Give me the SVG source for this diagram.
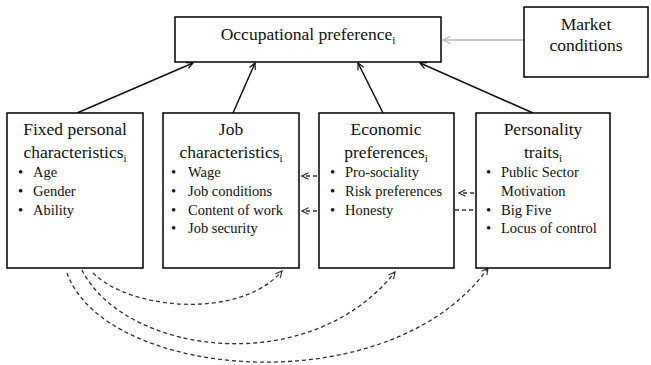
<svg xmlns="http://www.w3.org/2000/svg" width="651" height="365" viewBox="0 0 651 365" style="font-family:'Liberation Serif',serif">
<style>
svg text, svg tspan{font-family:"Liberation Serif","Times New Roman",serif !important;fill:#111}
.h{font-size:17.5px;text-anchor:middle}
.b{font-size:14.5px}
.sub{font-size:11px}
.box{fill:#fff;stroke:#000;stroke-width:1.5}
.solid{fill:none;stroke:#111;stroke-width:1.5}
.dash{fill:none;stroke:#333;stroke-width:1.3;stroke-dasharray:4 3}
.gray{fill:none;stroke:#bbb;stroke-width:1.5}
</style>
<defs>
<marker id="ah" viewBox="0 0 10 10" refX="9" refY="5" markerWidth="8" markerHeight="8" markerUnits="userSpaceOnUse" orient="auto">
<path d="M1,1 L9,5 L1,9" fill="none" stroke="#111" stroke-width="1.5"/>
</marker>
<marker id="ahd" viewBox="0 0 10 10" refX="9" refY="5" markerWidth="8" markerHeight="8" markerUnits="userSpaceOnUse" orient="auto">
<path d="M1,1 L9,5 L1,9" fill="none" stroke="#333" stroke-width="1.4"/>
</marker>
<marker id="ahg" viewBox="0 0 10 10" refX="9" refY="5" markerWidth="9" markerHeight="9" markerUnits="userSpaceOnUse" orient="auto">
<path d="M1,1 L9,5 L1,9" fill="none" stroke="#bbb" stroke-width="1.4"/>
</marker>
</defs>
<rect width="651" height="365" fill="#fff"/>

<g id="connectors">
<line class="solid" x1="77" y1="113" x2="193" y2="63" marker-end="url(#ah)"/>
<line class="solid" x1="233" y1="113" x2="255" y2="63" marker-end="url(#ah)"/>
<line class="solid" x1="383" y1="113" x2="358" y2="63" marker-end="url(#ah)"/>
<line class="solid" x1="533" y1="113" x2="420" y2="63" marker-end="url(#ah)"/>
<line class="gray" x1="524" y1="40" x2="443" y2="40" marker-end="url(#ahg)"/>
<line class="dash" x1="317" y1="176" x2="302" y2="176" marker-end="url(#ahd)"/>
<line class="dash" x1="317" y1="211" x2="302" y2="211" marker-end="url(#ahd)"/>
<line class="dash" x1="474" y1="193" x2="459" y2="193" marker-end="url(#ahd)"/>
<line class="dash" x1="455" y1="210" x2="476" y2="210"/>
<path class="dash" d="M93,273 C130,310 240,320 282,271" marker-end="url(#ahd)"/>
<path class="dash" d="M82,270 C125,355 310,380 395,272" marker-end="url(#ahd)"/>
<path class="dash" d="M67,273 C105,380 390,405 488,268" marker-end="url(#ahd)"/>
</g>

<g id="occupational-preference">
<rect class="box" x="175" y="17" width="266" height="45"/>
<text class="h" x="308" y="40">Occupational preference<tspan class="sub" dy="4">i</tspan></text>
</g>

<g id="market-conditions">
<rect class="box" x="524" y="7" width="124" height="70"/>
<text class="h" x="586" y="30">Market</text>
<text class="h" x="586" y="51">conditions</text>
</g>

<g id="fixed-personal">
<rect class="box" x="7" y="113" width="136" height="155"/>
<text class="h" x="75" y="135">Fixed personal</text>
<text class="h" x="75" y="158">characteristics<tspan class="sub" dy="4">i</tspan></text>
<text class="b" x="18" y="177">•</text><text class="b" x="33" y="177">Age</text>
<text class="b" x="18" y="196">•</text><text class="b" x="33" y="196">Gender</text>
<text class="b" x="18" y="215">•</text><text class="b" x="33" y="215">Ability</text>
</g>

<g id="job-characteristics">
<rect class="box" x="163" y="113" width="136" height="155"/>
<text class="h" x="231" y="135">Job</text>
<text class="h" x="231" y="158">characteristics<tspan class="sub" dy="4">i</tspan></text>
<text class="b" x="171" y="177">•</text><text class="b" x="188" y="177">Wage</text>
<text class="b" x="171" y="196">•</text><text class="b" x="188" y="196">Job conditions</text>
<text class="b" x="171" y="215">•</text><text class="b" x="188" y="215">Content of work</text>
<text class="b" x="171" y="233">•</text><text class="b" x="188" y="233">Job security</text>
</g>

<g id="economic-preferences">
<rect class="box" x="319" y="113" width="135" height="155"/>
<text class="h" x="386" y="135">Economic</text>
<text class="h" x="386" y="158">preferences<tspan class="sub" dy="4">i</tspan></text>
<text class="b" x="330" y="177">•</text><text class="b" x="345" y="177">Pro-sociality</text>
<text class="b" x="330" y="196">•</text><text class="b" x="345" y="196">Risk preferences</text>
<text class="b" x="330" y="215">•</text><text class="b" x="345" y="215">Honesty</text>
</g>

<g id="personality-traits">
<rect class="box" x="476" y="113" width="134" height="155"/>
<text class="h" x="543" y="135">Personality</text>
<text class="h" x="543" y="158">traits<tspan class="sub" dy="4">i</tspan></text>
<text class="b" x="486" y="177">•</text><text class="b" x="501" y="177">Public Sector</text>
<text class="b" x="501" y="196">Motivation</text>
<text class="b" x="486" y="215">•</text><text class="b" x="501" y="215">Big Five</text>
<text class="b" x="486" y="233">•</text><text class="b" x="501" y="233">Locus of control</text>
</g>
</svg>
